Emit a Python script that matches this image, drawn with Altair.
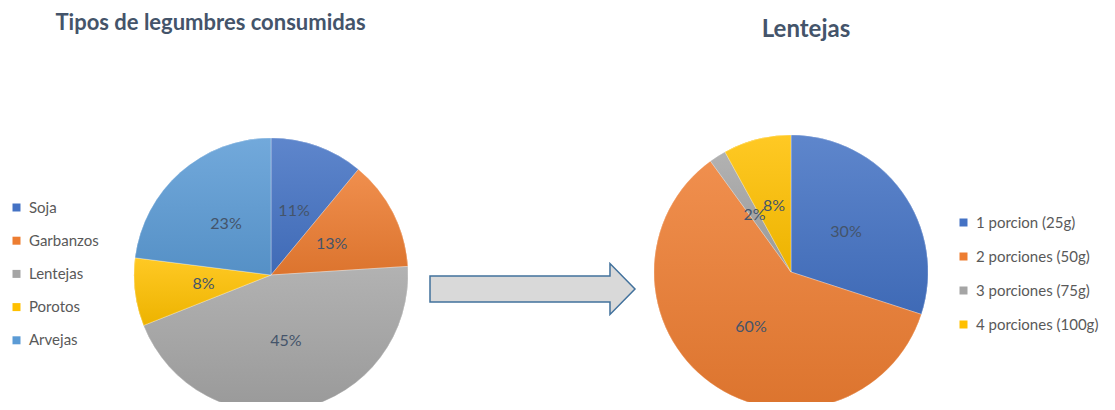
import altair as alt
import pandas as pd

# ---- data ----
legumbres = ["Soja", "Garbanzos", "Lentejas", "Porotos", "Arvejas"]
legumbres_pct = [11, 13, 45, 8, 23]
porciones = ["1 porcion (25g)", "2 porciones (50g)", "3 porciones (75g)", "4 porciones (100g)"]
porciones_pct = [30, 60, 2, 8]
titulos = ["Tipos de legumbres consumidas", "Lentejas"]

# ---- style ----
OFFICE = ["#4472C4", "#ED7D31", "#A5A5A5", "#FFC000", "#5B9BD5"]
TXT = "#44546A"
FONT = "Lato"
TAU = 6.283185307179586


def mix(h, t, a):
    h = h.lstrip("#")
    r, g, b = (int(h[i:i + 2], 16) for i in (0, 2, 4))
    tr, tg, tb = (255, 255, 255) if t == "w" else (0, 0, 0)
    r = round(r + (tr - r) * a)
    g = round(g + (tg - g) * a)
    b = round(b + (tb - b) * a)
    return "#{:02x}{:02x}{:02x}".format(r, g, b)


theta_scale = alt.Scale(domain=[0, 1], range=[0, TAU])


def pie(cats, vals, colors, cx, cy, r, lx, ly, row_pad):
    df = pd.DataFrame({"cat": cats, "v": vals, "order": list(range(len(cats)))})
    base = (
        alt.Chart(df)
        .transform_joinaggregate(total="sum(v)")
        .transform_window(cum="sum(v)", sort=[alt.SortField("order")])
        .transform_calculate(
            start="(datum.cum - datum.v) / datum.total",
            end="datum.cum / datum.total",
            mid="(datum.cum - datum.v / 2) / datum.total",
            lbl="datum.v + '%'",
        )
    )
    pos = dict(x=alt.value(cx), y=alt.value(cy))
    legend_layer = base.mark_arc(radius=r).encode(
        theta=alt.Theta("start:Q", scale=theta_scale),
        theta2="end:Q",
        color=alt.Color(
            "cat:N",
            sort=cats,
            scale=alt.Scale(domain=cats, range=colors),
            legend=alt.Legend(
                title=None,
                orient="none",
                legendX=lx,
                legendY=ly,
                symbolType="square",
                symbolSize=64,
                symbolStrokeWidth=0,
                labelFont=FONT,
                labelFontSize=15,
                labelColor="#595959",
                labelOffset=5,
                labelLimit=300,
                rowPadding=row_pad,
                padding=0,
            ),
        ),
        **pos,
    )
    layers = [legend_layer]
    for c, col in zip(cats, colors):
        grad = alt.Gradient(
            gradient="linear",
            stops=[
                alt.GradientStop(color=mix(col, "w", 0.14), offset=0),
                alt.GradientStop(color=mix(col, "k", 0.07), offset=1),
            ],
            x1=0, x2=0, y1=0, y2=1,
        )
        layers.append(
            base.transform_filter(alt.datum.cat == c)
            .mark_arc(radius=r, fill=grad, stroke="#ffffff", strokeWidth=0.6, strokeOpacity=0.5)
            .encode(theta=alt.Theta("start:Q", scale=theta_scale), theta2="end:Q", **pos)
        )
    labels = base.mark_text(
        radius=68, font=FONT, fontSize=16, color=TXT, align="center", baseline="middle"
    ).encode(theta=alt.Theta("mid:Q", scale=theta_scale), text="lbl:N", **pos)
    layers.append(labels)
    return alt.layer(*layers)


left = pie(legumbres, legumbres_pct, OFFICE, 263, 267, 137, 1, 192, 17.2)
right = pie(porciones, porciones_pct, OFFICE[:4], 783, 264, 137, 948, 207, 18)

arrow_path = "M-1,-0.127 L0.756,-0.127 L0.756,-0.249 L1,0 L0.756,0.249 L0.756,0.127 L-1,0.127 Z"
arrow = alt.Chart(pd.DataFrame({"a": [0]})).mark_point(
    shape=arrow_path, size=205 ** 2, filled=True, fill="#D9D9D9", stroke="#41719C",
    strokeWidth=1.5, opacity=1, fillOpacity=1, strokeOpacity=1,
).encode(x=alt.value(524.5), y=alt.value(281))

title_df = pd.DataFrame({"t": titulos, "i": [0, 1]})
t_left = alt.Chart(title_df).transform_filter(alt.datum.i == 0).mark_text(
    font=FONT, fontSize=22, fontWeight="bold", color=TXT, align="center", baseline="alphabetic"
).encode(text="t:N", x=alt.value(202.5), y=alt.value(22))
t_right = alt.Chart(title_df).transform_filter(alt.datum.i == 1).mark_text(
    font=FONT, fontSize=24, fontWeight="bold", color=TXT, align="center", baseline="alphabetic"
).encode(text="t:N", x=alt.value(798), y=alt.value(29))

chart = (
    alt.layer(left, right, arrow, t_left, t_right)
    .resolve_scale(color="independent")
    .properties(
        width=1099, height=394, padding=0,
        autosize=alt.AutoSizeParams(type="none"),
        background="#ffffff",
    )
    .configure_view(stroke=None)
)

chart.save("out.html", embed_options={"renderer": "svg", "actions": False})
